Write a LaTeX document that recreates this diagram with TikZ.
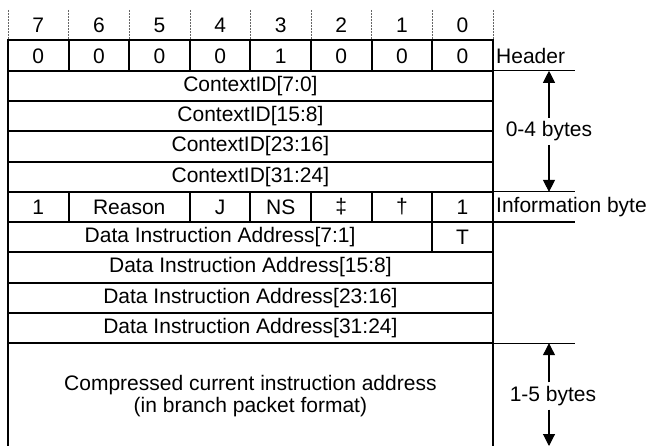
\documentclass[tikz,border=0pt]{standalone}
\usepackage{fontspec}
\setmainfont{Liberation Sans}
\usetikzlibrary{arrows.meta}
\begin{document}
\begin{tikzpicture}[x=1pt,y=-1pt,
  font=\fontsize{21}{24}\selectfont,
  gridline/.style={line width=2pt, line cap=rect},
  sideline/.style={line width=1.2pt},
  guide/.style={line width=0.5pt, densely dotted, black!60},
  txt/.style={inner sep=0pt, anchor=center},
  dimlabel/.style={inner sep=0pt, fill=white, minimum height=27pt},
  dimarrow/.style={line width=1.1pt, -{Triangle[length=12pt,width=12pt]}}]
\useasboundingbox (0,0) rectangle (651,446);
% bit guides and numbers
\foreach \i in {0,...,8} \draw[guide] (8+60.6*\i,10) -- (8+60.6*\i,40.5);
\foreach \i/\b in {0/7,1/6,2/5,3/4,4/3,5/2,6/1,7/0}
  \node[txt] (bit\b) at (38.3+60.6*\i,25) {\b};
% horizontal table lines
\foreach \y in {40.5,70.8,101,131.3,161.6,191.9,222.1,252.4,282.7,313,343.2}
  \draw[gridline] (8,\y) -- (492.8,\y);
% outer verticals
\draw[gridline] (8,40.5) -- (8,446);
\draw[gridline] (492.8,40.5) -- (492.8,446);
% header row verticals
\foreach \i in {1,...,7} \draw[gridline] (8+60.6*\i,40.5) -- (8+60.6*\i,70.8);
% info row verticals
\foreach \i in {1,3,4,5,6,7} \draw[gridline] (8+60.6*\i,191.9) -- (8+60.6*\i,222.1);
% DIA[7:1] row
\draw[gridline] (432.2,222.1) -- (432.2,252.4);
% header cells
\foreach \i/\v in {0/0,1/0,2/0,3/0,4/1,5/0,6/0,7/0}
  \node[txt] (h\i) at (38.3+60.6*\i,56) {\v};
% context rows
\node[txt] (cid0) at (250.4,86) {ContextID[7:0]};
\node[txt] (cid1) at (250.4,116.2) {ContextID[15:8]};
\node[txt] (cid2) at (250.4,146.5) {ContextID[23:16]};
\node[txt] (cid3) at (250.4,176.8) {ContextID[31:24]};
% info byte
\node[txt] (i7) at (38.3,207) {1};
\node[txt] (ireason) at (129.2,207) {Reason};
\node[txt] (ij) at (220.1,207) {J};
\node[txt] (ins) at (280.7,207) {NS};
\node[txt] (idd) at (341.3,207) {‡};
\node[txt] (id) at (401.9,207) {†};
\node[txt] (i0) at (462.5,207) {1};
% data instruction address
\node[txt] (dia0) at (220.1,237.3) {Data Instruction Address[7:1]};
\node[txt] (diat) at (462.5,237.3) {T};
\node[txt] (dia1) at (250.4,267.5) {Data Instruction Address[15:8]};
\node[txt] (dia2) at (250.4,297.8) {Data Instruction Address[23:16]};
\node[txt] (dia3) at (250.4,328.1) {Data Instruction Address[31:24]};
% compressed address
\node[txt, align=center] (cca) at (250.4,396) {Compressed current instruction address\\[-2pt](in branch packet format)};
% right side lines
\foreach \y in {70.8,191.9,222.1,343.2} \draw[sideline] (492.8,\y) -- (575,\y);
\node[txt, anchor=west] (lheader) at (496,56) {Header};
\node[txt, anchor=west] (linfo) at (496,207) {Information byte};
% dimension arrows
\coordinate (a1top) at (549,70.8);
\coordinate (a1bot) at (549,191.9);
\coordinate (a2top) at (549,343.2);
\coordinate (a2bot) at (549,446);
\node[dimlabel] (l04) at (549,131.3) {0-4 bytes};
\node[dimlabel] (l15) at (553,396) {1-5 bytes};
\draw[dimarrow] (l04.north -| a1top) -- (a1top);
\draw[dimarrow] (l04.south -| a1bot) -- (a1bot);
\draw[dimarrow] (l15.north -| a2top) -- (a2top);
\draw[dimarrow] (l15.south -| a2bot) -- (a2bot);
\end{tikzpicture}
\end{document}
